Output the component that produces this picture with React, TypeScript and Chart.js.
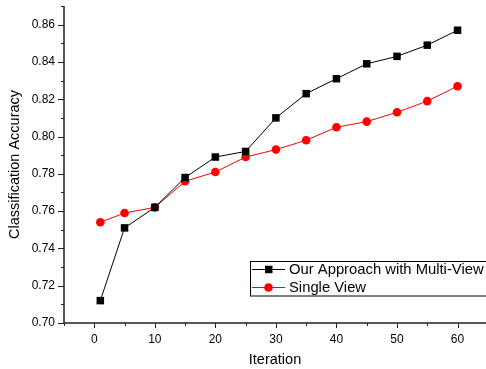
import React, { useEffect, useRef } from "react";
import { Chart, registerables } from "chart.js";

Chart.register(...registerables);

const iterations = [1, 5, 10, 15, 20, 25, 30, 35, 40, 45, 50, 55, 60];
const multiView = [0.712, 0.751, 0.762, 0.778, 0.789, 0.792, 0.81, 0.823, 0.831, 0.839, 0.843, 0.849, 0.857];
const singleView = [0.754, 0.759, 0.762, 0.776, 0.781, 0.789, 0.793, 0.798, 0.805, 0.808, 0.813, 0.819, 0.827];
const seriesNames = ["Our Approach with Multi-View", "Single View"];
const xTitle = "Iteration";
const yTitle = "Classification Accuracy";

const FONT = "'Liberation Sans', Arial, sans-serif";
const AXIS = "#222";

const axesPlugin = {
  id: "originAxes",
  afterDraw(chart: any) {
    const { ctx, chartArea } = chart;
    const xs = chart.scales.x;
    const ys = chart.scales.y;
    ctx.save();
    ctx.strokeStyle = AXIS;
    ctx.lineWidth = 1.5;
    ctx.beginPath();
    ctx.moveTo(chartArea.left, chartArea.top);
    ctx.lineTo(chartArea.left, chartArea.bottom);
    ctx.lineTo(chartArea.right + 2, chartArea.bottom);
    ctx.stroke();
    ctx.lineWidth = 1;
    ctx.beginPath();
    for (let v = -5; v <= 65; v += 5) {
      if (v < xs.min || v > xs.max) continue;
      const px = Math.round(xs.getPixelForValue(v)) + 0.5;
      const len = v % 10 === 0 ? 5 : 3;
      ctx.moveTo(px, chartArea.bottom);
      ctx.lineTo(px, chartArea.bottom + len);
    }
    for (let i = 70; i <= 87; i += 1) {
      const v = i / 100;
      if (v < ys.min - 1e-9 || v > ys.max + 1e-9) continue;
      const py = Math.round(ys.getPixelForValue(v)) + 0.5;
      const len = i % 2 === 0 ? 6 : 3;
      ctx.moveTo(chartArea.left, py);
      ctx.lineTo(chartArea.left - len, py);
    }
    ctx.stroke();

    // legend
    const bx = 250.5, by = 261.5, bw = 260, bh = 34.5;
    ctx.fillStyle = "#fff";
    ctx.fillRect(bx, by, bw, bh);
    ctx.strokeStyle = "#000";
    ctx.lineWidth = 1;
    ctx.strokeRect(bx, by, bw, bh);
    const rows = [
      { name: seriesNames[0], color: "#000", shape: "rect", y: 269.5 },
      { name: seriesNames[1], color: "#ff0000", shape: "circle", y: 287.5 },
    ];
    ctx.font = `14.8px ${FONT}`;
    ctx.textBaseline = "middle";
    ctx.textAlign = "left";
    for (const r of rows) {
      ctx.strokeStyle = r.color;
      ctx.lineWidth = 1;
      ctx.beginPath();
      ctx.moveTo(252, r.y);
      ctx.lineTo(285, r.y);
      ctx.stroke();
      ctx.fillStyle = r.color;
      if (r.shape === "rect") {
        ctx.fillRect(265, r.y - 3.75, 7.5, 7.5);
      } else {
        ctx.beginPath();
        ctx.arc(268.5, r.y, 4.3, 0, Math.PI * 2);
        ctx.fill();
      }
      ctx.fillStyle = "#000";
      ctx.fillText(r.name, 289, r.y + 0.5);
    }
    ctx.restore();
  },
};

export default function App() {
  const ref = useRef<HTMLCanvasElement>(null);
  useEffect(() => {
    if (!ref.current) return;
    const chart = new Chart(ref.current, {
      type: "line",
      data: {
        datasets: [
          {
            label: seriesNames[0],
            data: iterations.map((x, i) => ({ x, y: multiView[i] })),
            borderColor: "#000",
            backgroundColor: "#000",
            borderWidth: 1,
            pointStyle: "rect",
            pointRadius: 5.3,
            pointBorderWidth: 0,
            tension: 0,
          },
          {
            label: seriesNames[1],
            data: iterations.map((x, i) => ({ x, y: singleView[i] })),
            borderColor: "#ff0000",
            backgroundColor: "#ff0000",
            borderWidth: 1,
            pointStyle: "circle",
            pointRadius: 4.3,
            pointBorderWidth: 0,
            tension: 0,
          },
        ],
      },
      options: {
        animation: false,
        responsive: false,
        events: [],
        layout: { autoPadding: false, padding: { top: 6, right: 0, left: 0, bottom: 0 } },
        plugins: { legend: { display: false }, tooltip: { enabled: false } },
        scales: {
          x: {
            type: "linear",
            min: -5,
            max: 64.7,
            grid: { display: false, drawTicks: false },
            border: { display: false },
            ticks: {
              stepSize: 10,
              includeBounds: false,
              padding: 9,
              color: "#000",
              font: { family: FONT, size: 12 },
              maxRotation: 0,
              callback: (v: any) => (Number(v) % 10 === 0 && Number(v) >= 0 ? String(v) : ""),
            },
            title: {
              display: true,
              text: xTitle,
              color: "#000",
              font: { family: FONT, size: 14.5 },
              padding: { top: 0, bottom: 0 },
            },
            afterFit: (s: any) => {
              s.height = 46;
              s.paddingLeft = 0;
              s.paddingRight = 0;
            },
          },
          y: {
            type: "linear",
            min: 0.7,
            max: 0.87,
            grid: { display: false, drawTicks: false },
            border: { display: false },
            ticks: {
              stepSize: 0.02,
              includeBounds: false,
              padding: 9,
              color: "#000",
              font: { family: FONT, size: 12 },
              callback: (v: any) => Number(v).toFixed(2),
            },
            title: {
              display: true,
              text: yTitle,
              color: "#000",
              font: { family: FONT, size: 14.5 },
              padding: { top: 6, bottom: 0 },
            },
            afterFit: (s: any) => {
              s.width = 64;
              s.paddingTop = 0;
              s.paddingBottom = 0;
            },
          },
        },
      },
      plugins: [axesPlugin],
    } as any);
    return () => chart.destroy();
  }, []);
  return (
    <div style={{ position: "absolute", left: 0, top: 0, width: 486, height: 369, overflow: "hidden" }}>
      <canvas ref={ref} width={486} height={369} style={{ display: "block" }} />
    </div>
  );
}
